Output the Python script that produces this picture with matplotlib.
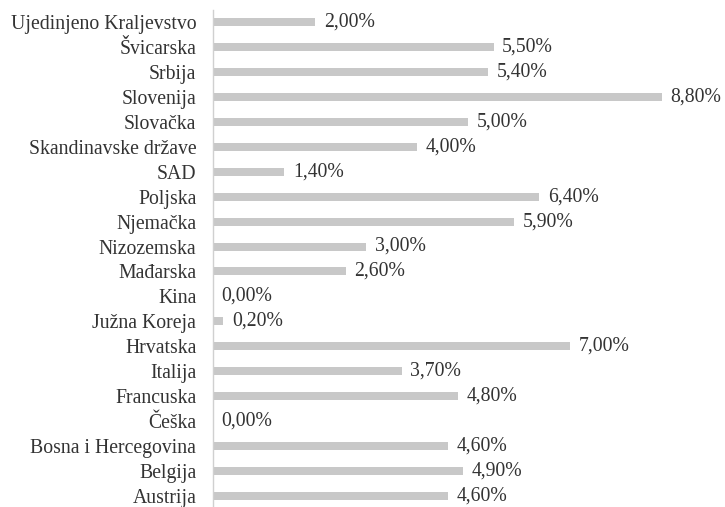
import matplotlib
matplotlib.use('Agg')
import matplotlib.pyplot as plt

# countries listed from bottom to top, as in the chart
countries = ['Austrija', 'Belgija', 'Bosna i Hercegovina', 'Češka', 'Francuska',
             'Italija', 'Hrvatska', 'Južna Koreja', 'Kina', 'Mađarska',
             'Nizozemska', 'Njemačka', 'Poljska', 'SAD', 'Skandinavske države',
             'Slovačka', 'Slovenija', 'Srbija', 'Švicarska', 'Ujedinjeno Kraljevstvo']
values = [4.6, 4.9, 4.6, 0.0, 4.8,
          3.7, 7.0, 0.2, 0.0, 2.6,
          3.0, 5.9, 6.4, 1.4, 4.0,
          5.0, 8.8, 5.4, 5.5, 2.0]

plt.rcParams['font.family'] = ['Liberation Serif', 'DejaVu Serif']
FS = 14.2
TXT = '#333333'

fig = plt.figure(figsize=(7.25, 5.07), dpi=100)
ax = fig.add_axes([213 / 725, 0.0, 1 - 213 / 725, 1 - 9.5 / 507])

pos = range(len(countries))
ax.barh(pos, values, height=0.32, color='#c8c8c8')

for y, v in zip(pos, values):
    ax.text(v + 0.17, y, f'{v:.2f}%'.replace('.', ','), va='center', ha='left',
            fontsize=FS, color=TXT)

ax.set_yticks(list(pos))
ax.set_yticklabels(countries, fontsize=FS, color=TXT)
ax.tick_params(axis='y', length=0, pad=12)
ax.set_xticks([])
ax.set_xlim(0, (725 - 213) / 51)
ax.set_ylim(-0.44, 19.5)

for side in ['top', 'right', 'bottom']:
    ax.spines[side].set_visible(False)
ax.spines['left'].set_color('#d0d0d0')
ax.spines['left'].set_linewidth(1)

fig.savefig('out.png', dpi=100)
